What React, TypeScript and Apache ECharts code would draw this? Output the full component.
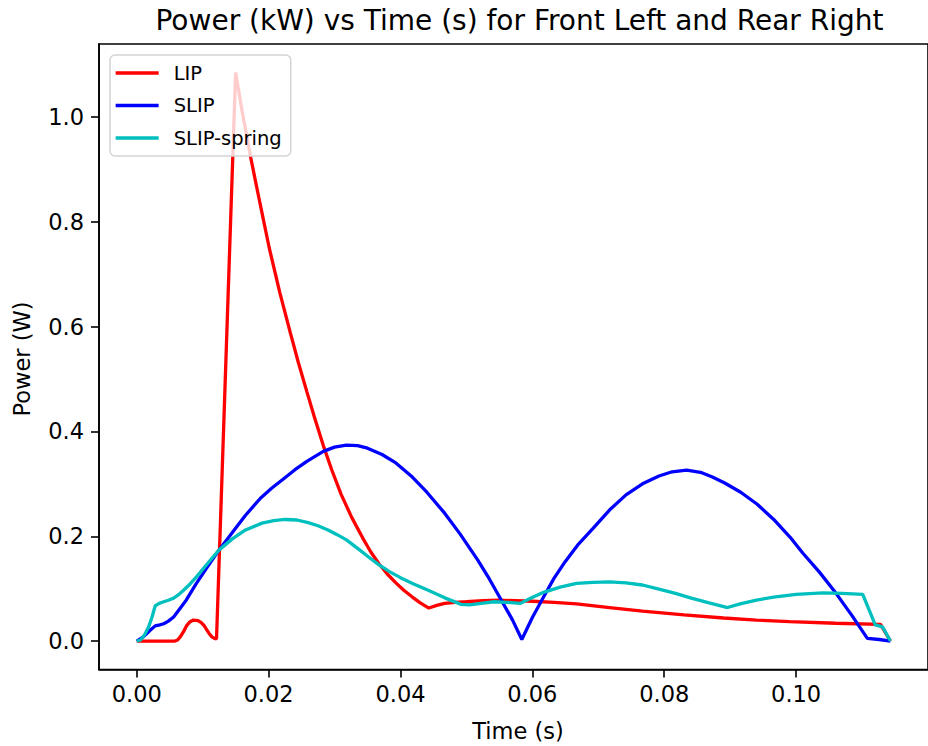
import React, { useEffect, useRef } from "react";
import * as echarts from "echarts";

// ---- Data ----
const lipTime = [0, 0.0058, 0.0062, 0.0066, 0.0071, 0.0076, 0.0081, 0.0086, 0.0093, 0.0098, 0.0102, 0.0106, 0.0110, 0.0114, 0.0118, 0.0121, 0.0150, 0.0160, 0.0173, 0.0187, 0.0201, 0.0217, 0.0233, 0.0245, 0.0258, 0.0270, 0.0283, 0.0296, 0.0310, 0.0326, 0.0343, 0.0355, 0.0367, 0.0380, 0.0393, 0.0405, 0.0418, 0.0430, 0.0443, 0.0455, 0.0467, 0.0483, 0.0500, 0.0525, 0.0550, 0.0575, 0.0600, 0.0633, 0.0667, 0.0717, 0.0767, 0.0830, 0.0890, 0.0940, 0.0990, 0.1060, 0.1128, 0.1143];
const lipPower = [0, 0, 0.002, 0.008, 0.018, 0.030, 0.037, 0.040, 0.039, 0.035, 0.030, 0.022, 0.014, 0.008, 0.005, 0.004, 1.085, 1.010, 0.922, 0.835, 0.750, 0.665, 0.588, 0.532, 0.476, 0.425, 0.373, 0.326, 0.280, 0.236, 0.196, 0.170, 0.148, 0.128, 0.111, 0.097, 0.084, 0.073, 0.063, 0.068, 0.072, 0.074, 0.075, 0.077, 0.078, 0.077, 0.076, 0.074, 0.071, 0.064, 0.057, 0.050, 0.044, 0.040, 0.037, 0.034, 0.032, 0];

const slipTime = [0, 0.0010, 0.0020, 0.0028, 0.0035, 0.0041, 0.0048, 0.0056, 0.0075, 0.0090, 0.0108, 0.0125, 0.0145, 0.0165, 0.0188, 0.0205, 0.0220, 0.0240, 0.0258, 0.0283, 0.0300, 0.0318, 0.0335, 0.0350, 0.0372, 0.0393, 0.0418, 0.0440, 0.0467, 0.0490, 0.0517, 0.0535, 0.0553, 0.0570, 0.0584, 0.0600, 0.0617, 0.0633, 0.0650, 0.0670, 0.0692, 0.0717, 0.0742, 0.0767, 0.0792, 0.0812, 0.0834, 0.0855, 0.0873, 0.0891, 0.0916, 0.0941, 0.0966, 0.0991, 0.1010, 0.1035, 0.1060, 0.1085, 0.1108, 0.1126, 0.1143];
const slipPower = [0, 0.008, 0.020, 0.029, 0.031, 0.033, 0.038, 0.046, 0.078, 0.109, 0.143, 0.174, 0.207, 0.240, 0.273, 0.292, 0.307, 0.327, 0.343, 0.362, 0.370, 0.374, 0.373, 0.368, 0.356, 0.340, 0.313, 0.284, 0.244, 0.205, 0.155, 0.118, 0.078, 0.040, 0.003, 0.045, 0.084, 0.120, 0.152, 0.185, 0.215, 0.250, 0.279, 0.300, 0.315, 0.323, 0.326, 0.322, 0.313, 0.302, 0.284, 0.261, 0.232, 0.198, 0.168, 0.132, 0.092, 0.048, 0.005, 0.003, 0];

const springTime = [0, 0.0006, 0.0012, 0.0018, 0.0023, 0.0028, 0.0034, 0.0041, 0.0048, 0.0056, 0.0063, 0.0071, 0.0081, 0.0091, 0.0108, 0.0125, 0.0145, 0.0165, 0.0190, 0.0208, 0.0225, 0.0243, 0.0260, 0.0275, 0.0290, 0.0304, 0.0318, 0.0337, 0.0355, 0.0368, 0.0384, 0.0400, 0.0420, 0.0442, 0.0468, 0.0492, 0.0505, 0.0522, 0.0542, 0.0562, 0.0582, 0.0598, 0.0617, 0.0642, 0.0667, 0.0692, 0.0717, 0.0742, 0.0767, 0.0792, 0.0817, 0.0841, 0.0868, 0.0896, 0.0915, 0.0940, 0.0966, 0.1000, 0.1041, 0.1070, 0.1101, 0.1120, 0.1131, 0.1143];
const springPower = [0, 0.002, 0.012, 0.027, 0.045, 0.067, 0.072, 0.075, 0.078, 0.082, 0.088, 0.097, 0.109, 0.123, 0.149, 0.174, 0.195, 0.212, 0.225, 0.230, 0.232, 0.231, 0.226, 0.220, 0.212, 0.203, 0.193, 0.175, 0.157, 0.145, 0.132, 0.121, 0.109, 0.097, 0.082, 0.070, 0.069, 0.072, 0.075, 0.074, 0.072, 0.082, 0.093, 0.103, 0.110, 0.112, 0.113, 0.111, 0.107, 0.099, 0.091, 0.082, 0.073, 0.064, 0.071, 0.078, 0.084, 0.089, 0.092, 0.091, 0.089, 0.031, 0.027, 0];

const seriesNames = ["LIP", "SLIP", "SLIP-spring"];
const seriesColors = ["#ff0000", "#0000ff", "#00bfbf"];

const xTicks = [0, 0.02, 0.04, 0.06, 0.08, 0.1];
const yTicks = [0, 0.2, 0.4, 0.6, 0.8, 1.0];

const titleText = "Power (kW) vs Time (s) for Front Left and Rear Right";
const xName = "Time (s)";
const yName = "Power (W)";

const FONT = "DejaVu Sans";

const pairs = (t: number[], p: number[]) => t.map((x, i) => [x, p[i]]);

export default function App() {
  const ref = useRef<HTMLDivElement>(null);
  useEffect(() => {
    if (!ref.current) return;
    const chart = echarts.init(ref.current, undefined, { renderer: "svg" });
    const datasets = [
      pairs(lipTime, lipPower),
      pairs(slipTime, slipPower),
      pairs(springTime, springPower),
    ];
    chart.setOption({
      animation: false,
      backgroundColor: "#ffffff",
      textStyle: { fontFamily: FONT },
      grid: {
        left: 99,
        top: 44,
        width: 842,
        height: 625.5,
        show: true,
        borderColor: "#000",
        borderWidth: 1.6,
        backgroundColor: "transparent",
      },
      xAxis: {
        type: "value",
        min: -0.00572,
        max: 0.12,
        splitLine: { show: false },
        axisLine: { show: true, onZero: false, lineStyle: { color: "#000", width: 1.6 } },
        axisTick: {
          show: true,
          length: 8,
          customValues: xTicks,
          lineStyle: { color: "#000", width: 1.6 },
        },
        axisLabel: {
          customValues: xTicks,
          margin: 13,
          fontSize: 22.5,
          fontFamily: FONT,
          color: "#000",
          formatter: (v: number) => v.toFixed(2),
        },
      },
      yAxis: {
        type: "value",
        min: -0.05425,
        max: 1.13925,
        splitLine: { show: false },
        axisLine: { show: true, onZero: false, lineStyle: { color: "#000", width: 1.6 } },
        axisTick: {
          show: true,
          length: 8,
          customValues: yTicks,
          lineStyle: { color: "#000", width: 1.6 },
        },
        axisLabel: {
          customValues: yTicks,
          margin: 15,
          fontSize: 22.5,
          fontFamily: FONT,
          color: "#000",
          formatter: (v: number) => v.toFixed(1),
        },
      },
      legend: {
        left: 110,
        top: 55,
        orient: "vertical",
        itemWidth: 43,
        itemHeight: 20,
        itemGap: 12.5,
        padding: [8, 9, 8, 4],
        backgroundColor: "rgba(255,255,255,0.8)",
        borderColor: "#d4d4d4",
        borderWidth: 1.5,
        borderRadius: 5,
        itemStyle: { opacity: 0, borderWidth: 0 },
        lineStyle: { opacity: 1, width: 3.3 },
        textStyle: { fontFamily: FONT, fontSize: 19.5, color: "#000", padding: [0, 0, 0, 10] },
        data: seriesNames,
      },
      graphic: [
        {
          type: "text",
          x: 519.5,
          y: 20,
          style: {
            text: titleText,
            fontFamily: FONT,
            fontSize: 28,
            fill: "#000",
            textAlign: "center",
            textVerticalAlign: "middle",
          },
        },
        {
          type: "text",
          x: 518,
          y: 731,
          style: {
            text: xName,
            fontFamily: FONT,
            fontSize: 22.5,
            fill: "#000",
            textAlign: "center",
            textVerticalAlign: "middle",
          },
        },
        {
          type: "text",
          x: 22,
          y: 359,
          rotation: Math.PI / 2,
          style: {
            text: yName,
            fontFamily: FONT,
            fontSize: 22.5,
            fill: "#000",
            textAlign: "center",
            textVerticalAlign: "middle",
          },
        },
      ],
      series: seriesNames.map((name, i) => ({
        name,
        type: "line",
        data: datasets[i],
        symbol: "none",
        showSymbol: false,
        smooth: false,
        lineStyle: { color: seriesColors[i], width: 3.3 },
        itemStyle: { color: seriesColors[i] },
        z: 2,
      })),
    });
    return () => chart.dispose();
  }, []);
  return <div ref={ref} style={{ width: 928, height: 746, position: "absolute", left: 0, top: 0 }} />;
}
